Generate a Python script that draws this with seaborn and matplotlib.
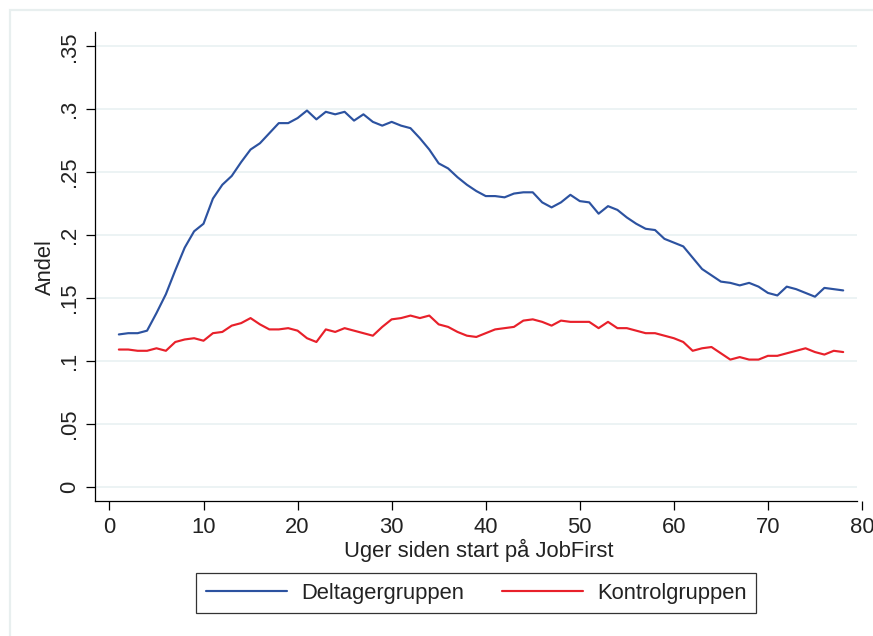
import numpy as np
import pandas as pd
import seaborn as sns
import matplotlib.pyplot as plt
from matplotlib.patches import Rectangle

# Uger siden start (1-78)
uger = list(range(1, 79))

# Andel i beskæftigelse
deltager = [
    0.121, 0.122, 0.122, 0.124, 0.138, 0.153, 0.172, 0.190, 0.203, 0.209,
    0.229, 0.240, 0.247, 0.258, 0.268, 0.273, 0.281, 0.289, 0.289, 0.293,
    0.299, 0.292, 0.298, 0.296, 0.298, 0.291, 0.296, 0.290, 0.287, 0.290,
    0.287, 0.285, 0.277, 0.268, 0.257, 0.253, 0.246, 0.240, 0.235, 0.231,
    0.231, 0.230, 0.233, 0.234, 0.234, 0.226, 0.222, 0.226, 0.232, 0.227,
    0.226, 0.217, 0.223, 0.220, 0.214, 0.209, 0.205, 0.204, 0.197, 0.194,
    0.191, 0.182, 0.173, 0.168, 0.163, 0.162, 0.160, 0.162, 0.159, 0.154,
    0.152, 0.159, 0.157, 0.154, 0.151, 0.158, 0.157, 0.156,
]
kontrol = [
    0.109, 0.109, 0.108, 0.108, 0.110, 0.108, 0.115, 0.117, 0.118, 0.116,
    0.122, 0.123, 0.128, 0.130, 0.134, 0.129, 0.125, 0.125, 0.126, 0.124,
    0.118, 0.115, 0.125, 0.123, 0.126, 0.124, 0.122, 0.120, 0.127, 0.133,
    0.134, 0.136, 0.134, 0.136, 0.129, 0.127, 0.123, 0.120, 0.119, 0.122,
    0.125, 0.126, 0.127, 0.132, 0.133, 0.131, 0.128, 0.132, 0.131, 0.131,
    0.131, 0.126, 0.131, 0.126, 0.126, 0.124, 0.122, 0.122, 0.120, 0.118,
    0.115, 0.108, 0.110, 0.111, 0.106, 0.101, 0.103, 0.101, 0.101, 0.104,
    0.104, 0.106, 0.108, 0.110, 0.107, 0.105, 0.108, 0.107,
]
grupper = ["Deltagergruppen", "Kontrolgruppen"]
farver = ["#2c52a0", "#e8202a"]

xticks = [0, 10, 20, 30, 40, 50, 60, 70, 80]
yticks = [0, 0.05, 0.1, 0.15, 0.2, 0.25, 0.3, 0.35]
ytick_labels = ["0", ".05", ".1", ".15", ".2", ".25", ".3", ".35"]

df = pd.DataFrame({
    "uge": uger + uger,
    "andel": deltager + kontrol,
    "gruppe": [grupper[0]] * len(uger) + [grupper[1]] * len(uger),
})

sns.set_theme(style="white")
plt.rcParams["font.family"] = ["Liberation Sans", "DejaVu Sans"]
txt = "#222222"
fs = 15.8

fig = plt.figure(figsize=(8.73, 6.36), dpi=100)
ax = fig.add_axes([0.1092, 0.2123, 0.8782, 0.7369])

# ramme om hele grafen
fig.patches.append(Rectangle((10 / 873, -0.1), 1.2, 1.1 - 10 / 636, transform=fig.transFigure,
                             fill=False, edgecolor="#e8efef", linewidth=1.6))

# gitterlinjer stopper ved plotområdets kant (som i Stata)
ax.hlines(yticks, -1.5, 79.5, color="#e9f1f2", linewidth=1.2, zorder=0)

sns.lineplot(data=df, x="uge", y="andel", hue="gruppe", palette=farver,
             linewidth=1.55, ax=ax, legend=False)

ax.set_xlim(-1.5, 80)
ax.set_ylim(-0.0114, 0.3612)
ax.set_xticks(xticks)
ax.set_yticks(yticks)
ax.set_yticklabels(ytick_labels, rotation=90, va="center")
ax.grid(False)

for s in ["top", "right"]:
    ax.spines[s].set_visible(False)
for s in ["left", "bottom"]:
    ax.spines[s].set_color("black")
    ax.spines[s].set_linewidth(0.9)
ax.spines["bottom"].set_bounds(-1.5, 79.5)

ax.tick_params(axis="both", which="major", direction="out", length=6.2, width=0.9,
               color="black", labelsize=fs, labelcolor=txt, bottom=True, left=True)
ax.tick_params(axis="x", pad=5)
ax.tick_params(axis="y", pad=5)

ax.set_xlabel("Uger siden start på JobFirst", fontsize=fs, color=txt, labelpad=1)
ax.set_ylabel("Andel", fontsize=fs, color=txt)
ax.yaxis.set_label_coords(-0.051, 0.5)

handles = [plt.Line2D([], [], color=c, linewidth=1.55) for c in farver]
leg = fig.legend(handles, grupper, loc="center", bbox_to_anchor=(0.5455, 0.0676),
                 ncol=2, fontsize=fs, frameon=True, fancybox=False,
                 handlelength=3.7, handletextpad=0.64, columnspacing=1.7,
                 borderpad=0.45)
leg.get_frame().set_edgecolor("black")
leg.get_frame().set_linewidth(0.9)
for t in leg.get_texts():
    t.set_color(txt)

fig.savefig("out.png", dpi=100)
